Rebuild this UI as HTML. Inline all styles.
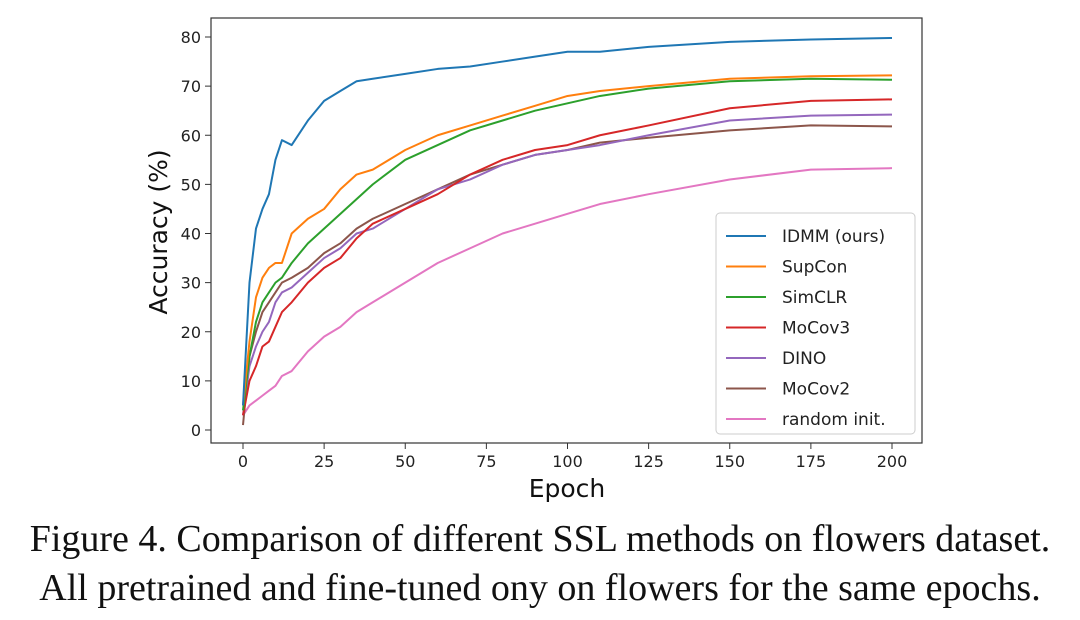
<!DOCTYPE html>
<html><head><meta charset="utf-8"><style>
body{margin:0;background:#fff;width:1080px;height:620px;overflow:hidden}
svg text{font-family:"DejaVu Sans","Liberation Sans",sans-serif}
.cap{position:absolute;left:0;width:1080px;text-align:center;font-family:"Liberation Serif",serif;font-size:38px;color:#111;white-space:nowrap}
</style></head><body>
<svg id="chart" width="1080" height="620" style="position:absolute;left:0;top:0"></svg>
<div class="cap" style="top:517px">Figure 4. Comparison of different SSL methods on flowers dataset.</div>
<div class="cap" style="top:566px">All pretrained and fine-tuned ony on flowers for the same epochs.</div>
<script>
const epochs=[0,2,4,6,8,10,12,15,20,25,30,35,40,50,60,70,80,90,100,110,125,150,175,200];
const idmm=[5,30,41,45,48,55,59,58,63,67,69,71,71.5,72.5,73.5,74,75,76,77,77,78,79,79.5,79.8];
const supcon=[5,18,27,31,33,34,34,40,43,45,49,52,53,57,60,62,64,66,68,69,70,71.5,72,72.2];
const simclr=[4,15,22,26,28,30,31,34,38,41,44,47,50,55,58,61,63,65,66.5,68,69.5,71,71.5,71.3];
const mocov3=[3,10,13,17,18,21,24,26,30,33,35,39,42,45,48,52,55,57,58,60,62,65.5,67,67.3];
const dino=[3,13,17,20,22,26,28,29,32,35,37,40,41,45,49,51,54,56,57,58,60,63,64,64.2];
const mocov2=[1,15,20,24,26,28,30,31,33,36,38,41,43,46,49,52,54,56,57,58.5,59.5,61,62,61.8];
const randomInit=[3,5,6,7,8,9,11,12,16,19,21,24,26,30,34,37,40,42,44,46,48,51,53,53.3];
const seriesNames=["IDMM (ours)","SupCon","SimCLR","MoCov3","DINO","MoCov2","random init."];
const seriesData=[idmm,supcon,simclr,mocov3,dino,mocov2,randomInit];
const colors=["#1f77b4","#ff7f0e","#2ca02c","#d62728","#9467bd","#8c564b","#e377c2"];
const xTicks=[0,25,50,75,100,125,150,175,200];
const yTicks=[0,10,20,30,40,50,60,70,80];
const L=211,R=922,T=18,B=443;
const sx=v=>243+v*(892-243)/200;
const sy=v=>430-v*(430-37)/80;
const svg=document.getElementById('chart');
const NS='http://www.w3.org/2000/svg';
function mk(t,a,p){const e=document.createElementNS(NS,t);for(const k in a)e.setAttribute(k,a[k]);(p||svg).appendChild(e);return e;}
const frame=mk('rect',{x:L,y:T,width:R-L,height:B-T,fill:'none',stroke:'#333','stroke-width':1.2});


xTicks.forEach(v=>{
 const l=mk('line',{x1:sx(v),x2:sx(v),y1:B,y2:B+6,stroke:'#333'});
 
 
 const t=mk('text',{x:sx(v),y:B+24,'text-anchor':'middle','font-size':16,fill:'#222'});t.textContent=v;
 
 
});
yTicks.forEach(v=>{
 const l=mk('line',{x1:L-6,x2:L,y1:sy(v),y2:sy(v),stroke:'#333'});
 
 
 const t=mk('text',{x:L-10,y:sy(v)+6,'text-anchor':'end','font-size':16,fill:'#222'});t.textContent=v;
 
 
});
const xt=mk('text',{x:567,y:497,'text-anchor':'middle','font-size':25,fill:'#111'});xt.textContent='Epoch';


const yt=mk('text',{x:0,y:0,'text-anchor':'middle','font-size':25,fill:'#111',transform:'translate(167,232) rotate(-90)'});yt.textContent='Accuracy (%)';


seriesData.slice().reverse().forEach((d,ri)=>{
 const i=seriesData.length-1-ri;
 const p=mk('polyline',{points:d.map((v,j)=>sx(epochs[j])+','+sy(v)).join(' '),fill:'none',stroke:colors[i],'stroke-width':2,'stroke-linejoin':'round'});
 
 
});
const lg=mk('rect',{x:716,y:213,width:199,height:221,rx:4,fill:'#fff',stroke:'#ccc'});


seriesNames.forEach((n,i)=>{
 const y=236+i*30.5;
 const l=mk('line',{x1:726,x2:766,y1:y,y2:y,stroke:colors[i],'stroke-width':2});
 
 
 const t=mk('text',{x:782,y:y+6,'font-size':17,fill:'#222'});t.textContent=n;
 
 
});
</script>
</body></html>
